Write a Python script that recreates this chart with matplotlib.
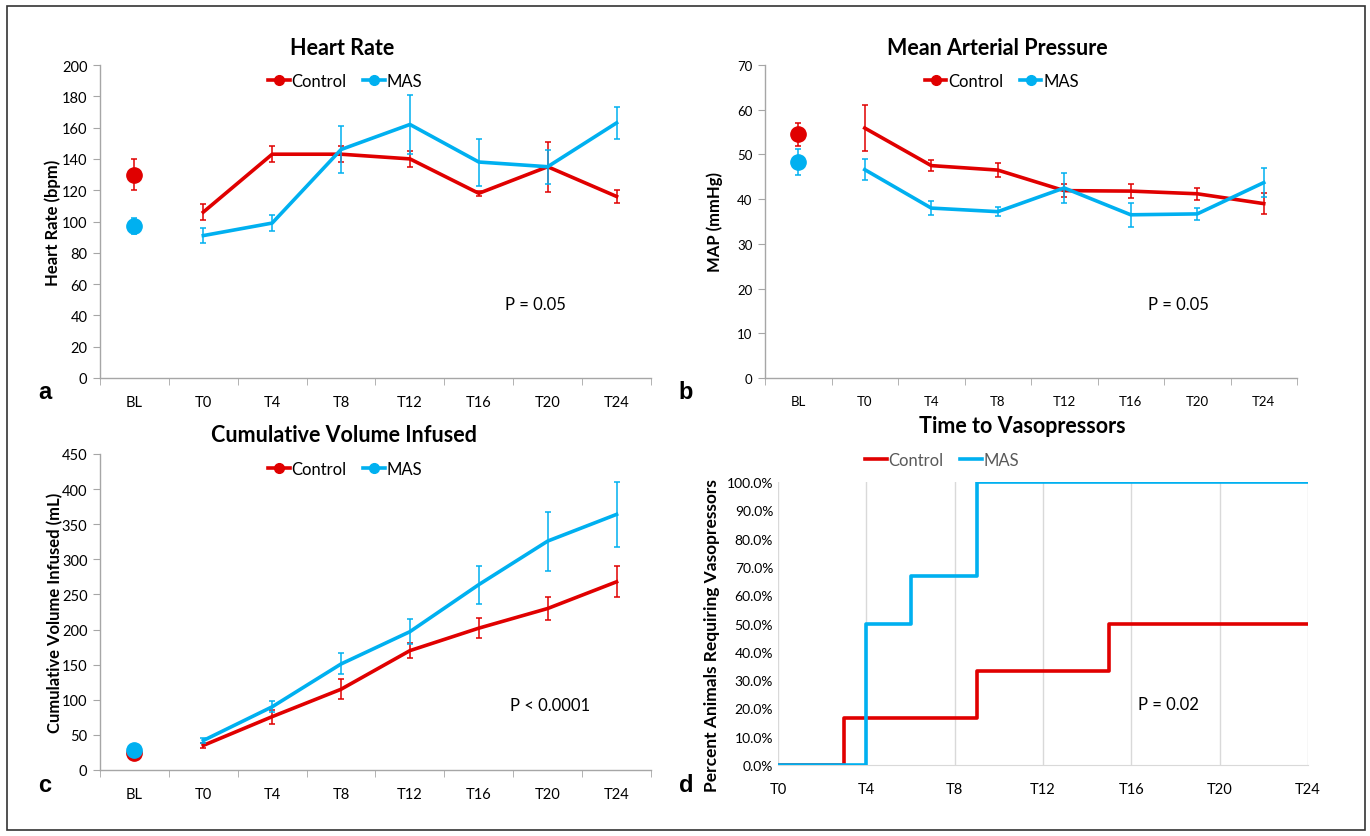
import matplotlib
matplotlib.use("Agg")
import matplotlib.pyplot as plt
from matplotlib.patches import Rectangle
from matplotlib.lines import Line2D
import numpy as np

plt.rcParams['font.family'] = ['Lato', 'DejaVu Sans']

categories = ["BL", "T0", "T4", "T8", "T12", "T16", "T20", "T24"]

# Heart rate
hr_ctrl = [130, 106, 143, 143, 140, 118, 135, 116]
hr_ctrl_err = [10, 5, 5, 5, 5, 1.5, 16, 4]
hr_mas = [97, 91, 99, 146, 162, 138, 135, 163]
hr_mas_err = [5, 5, 5, 15, 19, 15, 11, 10]

# MAP
map_ctrl = [54.5, 55.9, 47.5, 46.5, 41.9, 41.8, 41.2, 39.0]
map_ctrl_err = [2.6, 5.2, 1.3, 1.5, 1.4, 1.5, 1.4, 2.4]
map_mas = [48.3, 46.6, 38.0, 37.2, 42.5, 36.5, 36.7, 43.7]
map_mas_err = [2.9, 2.4, 1.6, 1.0, 3.4, 2.7, 1.4, 3.2]

# Cumulative volume
vol_ctrl = [24, 35, 76, 115, 170, 202, 230, 268]
vol_ctrl_err = [0, 4, 10, 14, 11, 14, 16, 22]
vol_mas = [28, 42, 90, 151, 197, 264, 326, 364]
vol_mas_err = [0, 4, 8, 15, 18, 27, 42, 46]

# Time to vasopressors
vp_ctrl_t = [0, 3, 9, 15, 24]
vp_ctrl_pct = [0, 16.7, 33.3, 50.0, 50.0]
vp_mas_t = [0, 4, 6, 9, 24]
vp_mas_pct = [0, 50.0, 66.7, 100.0, 100.0]
vp_ticks = [0, 4, 8, 12, 16, 20, 24]
vp_labels = ["T0", "T4", "T8", "T12", "T16", "T20", "T24"]

RED = '#E00000'
BLUE = '#00B0F0'
GRAY = '#A6A6A6'
W, H = 1370, 837

fig = plt.figure(figsize=(W / 100, H / 100), dpi=100)

def add_ax(l, r, t, b):
    return fig.add_axes([l / W, 1 - b / H, (r - l) / W, (b - t) / H])

fig.patches.append(Rectangle((7 / W, 1 - 831 / H), (1365 - 7) / W, (831 - 7) / H,
                             transform=fig.transFigure, fill=False, ec='#333333', lw=1.2))


def cat_panel(ax, ctrl, cerr, mas, merr, ylim, ystep, title, title_x, title_pad, ylabel, ylabel_x,
              ptext, ptxy, leg_y, tick_fs):
    x = np.arange(len(categories))
    ax.errorbar(x[1:], ctrl[1:], yerr=cerr[1:], color=RED, lw=2.6, elinewidth=1.1,
                capsize=2.5, capthick=1.1, zorder=3)
    ax.errorbar(x[1:], mas[1:], yerr=merr[1:], color=BLUE, lw=2.6, elinewidth=1.1,
                capsize=2.5, capthick=1.1, zorder=4)
    ax.errorbar([x[0]], [ctrl[0]], yerr=[cerr[0]], color=RED, fmt='o', ms=11,
                elinewidth=1.1, capsize=2.5, capthick=1.1, zorder=3)
    ax.errorbar([x[0]], [mas[0]], yerr=[merr[0]], color=BLUE, fmt='o', ms=11,
                elinewidth=1.1, capsize=2.5, capthick=1.1, zorder=4)
    ax.set_xlim(-0.5, len(categories) - 0.5)
    ax.set_ylim(*ylim)
    ax.set_yticks(np.arange(ylim[0], ylim[1] + 0.1, ystep))
    ax.set_xticks(x)
    ax.set_xticklabels(categories)
    ax.set_xticks(np.arange(-0.5, len(categories), 1), minor=True)
    ax.tick_params(axis='x', which='major', length=0, pad=12, labelsize=tick_fs)
    ax.tick_params(axis='x', which='minor', length=5, color=GRAY, direction='out')
    ax.tick_params(axis='y', length=5, color=GRAY, labelsize=tick_fs, pad=4)
    for s in ['top', 'right']:
        ax.spines[s].set_visible(False)
    for s in ['left', 'bottom']:
        ax.spines[s].set_color(GRAY)
        ax.spines[s].set_linewidth(1.0)
    ax.set_title(title, fontsize=15.5, fontweight='bold', pad=title_pad, x=title_x)
    ax.set_ylabel(ylabel, fontsize=12, fontweight='bold', va='center')
    ax.yaxis.set_label_coords(ylabel_x, 0.5)
    ax.text(ptxy[0], ptxy[1], ptext, transform=ax.transAxes, fontsize=12, ha='left', va='center')
    handles = [Line2D([], [], color=RED, lw=2.6, marker='o', ms=7),
               Line2D([], [], color=BLUE, lw=2.6, marker='o', ms=7)]
    ax.legend(handles, ["Control", "MAS"], loc='center', bbox_to_anchor=(0.445, leg_y), ncol=2,
              frameon=False, fontsize=12, handlelength=1.3, handletextpad=0.1,
              columnspacing=1.0)


ax_a = add_ax(100, 651, 66, 379)
cat_panel(ax_a, hr_ctrl, hr_ctrl_err, hr_mas, hr_mas_err, (0, 200), 20, "Heart Rate", 0.439, 8,
          "Heart Rate (bpm)", -0.085, "P = 0.05", (0.735, 0.235), 0.95, 10.5)

ax_b = add_ax(765, 1297, 66, 379)
cat_panel(ax_b, map_ctrl, map_ctrl_err, map_mas, map_mas_err, (0, 70), 10, "Mean Arterial Pressure",
          0.436, 8, "MAP (mmHg)", -0.094, "P = 0.05", (0.72, 0.235), 0.95, 9.5)

ax_c = add_ax(100, 651, 455, 771)
cat_panel(ax_c, vol_ctrl, vol_ctrl_err, vol_mas, vol_mas_err, (0, 450), 50, "Cumulative Volume Infused",
          0.443, 9, "Cumulative Volume Infused (mL)", -0.082, "P < 0.0001", (0.745, 0.205), 0.952, 10.5)

ax_d = add_ax(778, 1308, 483, 766)
ax_d.step(vp_ctrl_t, vp_ctrl_pct, where='post', color=RED, lw=2.6, zorder=3)
ax_d.step(vp_mas_t, vp_mas_pct, where='post', color=BLUE, lw=2.6, zorder=4)
ax_d.set_xlim(0, 24)
ax_d.set_ylim(0, 100)
ax_d.set_xticks(vp_ticks)
ax_d.set_xticklabels(vp_labels)
ax_d.set_yticks(np.arange(0, 101, 10))
ax_d.set_yticklabels([f"{v:.1f}%" for v in np.arange(0, 101, 10)])
ax_d.grid(axis='x', color='#D9D9D9', lw=1.0)
ax_d.set_axisbelow(True)
ax_d.tick_params(axis='y', length=0, labelsize=10)
ax_d.tick_params(axis='x', length=0, labelsize=10.5, pad=12)
for s in ['top', 'right', 'left']:
    ax_d.spines[s].set_visible(False)
ax_d.spines['bottom'].set_color('#D9D9D9')
ax_d.set_ylabel("Percent Animals Requiring Vasopressors", fontsize=12.5, fontweight='bold', va='center')
ax_d.yaxis.set_label_coords(-0.125, 0.46)
ax_d.text(0.68, 0.215, "P = 0.02", transform=ax_d.transAxes, fontsize=12, ha='left', va='center')
fig.text(1022 / W, 1 - 427 / H, "Time to Vasopressors", fontsize=15.5, fontweight='bold',
         ha='center', va='center')
handles = [Line2D([], [], color=RED, lw=2.6), Line2D([], [], color=BLUE, lw=2.6)]
ax_d.legend(handles, ["Control", "MAS"], loc='center', bbox_to_anchor=(0.31, 1.078), ncol=2,
            frameon=False, fontsize=12, handlelength=1.3, handletextpad=0.1, columnspacing=1.0,
            labelcolor='#595959')

# panel letters
for lbl, (px, py) in {"a": (45, 393), "b": (686, 393), "c": (45, 786), "d": (686, 786)}.items():
    fig.text(px / W, 1 - py / H, lbl, fontsize=17, fontweight='bold', ha='center', va='center',
             family=['Liberation Sans', 'DejaVu Sans'])

fig.savefig("out.png", dpi=100)
